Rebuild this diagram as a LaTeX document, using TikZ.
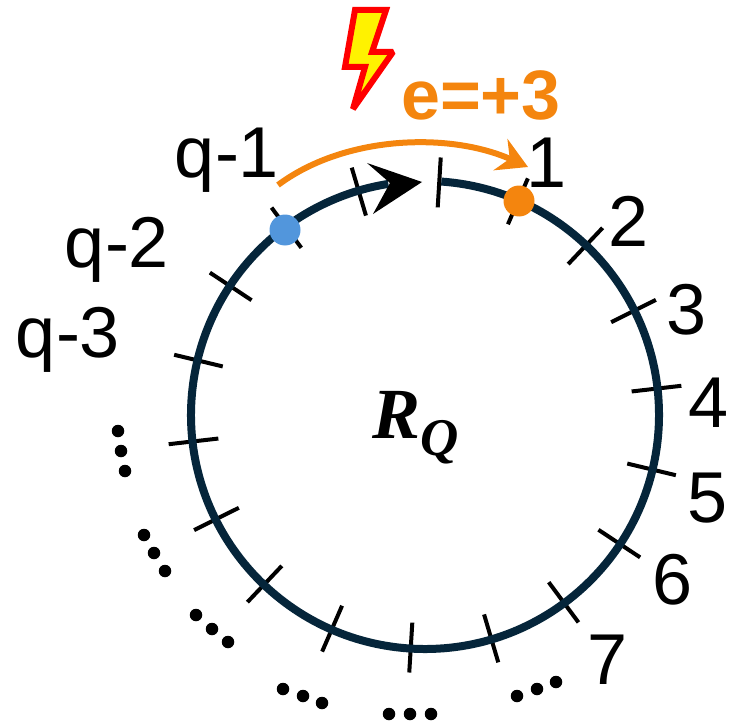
\documentclass[tikz,border=0pt]{standalone}
\usepackage{fontspec}
\setmainfont{Liberation Sans}
\newfontfamily\serifbold{Liberation Serif}
\usetikzlibrary{arrows.meta}
\definecolor{ringblue}{HTML}{05253A}
\definecolor{errorange}{HTML}{F4850E}
\definecolor{dotblue}{HTML}{5296DC}

\begin{document}
\begin{tikzpicture}[
  x=1pt, y=1pt,
  lab/.style={font=\fontsize{72}{72}\selectfont, inner sep=0pt, text=black},
  errlab/.style={font=\fontsize{70}{70}\selectfont\bfseries, inner sep=0pt, text=errorange},
  ring/.style={draw=ringblue, line width=8pt},
  tickmark/.style={draw=black, line width=4pt},
  dot/.style={circle, fill=black, inner sep=0pt, minimum size=12.5pt},
  qubit/.style={circle, inner sep=0pt, minimum size=31pt},
  arr/.style={-{Stealth[length=30pt, width=34pt, inset=10pt]}, draw=errorange, line width=6pt}]
  \useasboundingbox (0,-722) rectangle (730,0);
  \coordinate (centre) at (425,-415);
  % ticks every 20 degrees, then the ring with its gap
  \foreach \ang in {86.5,66.5,...,-253.5}
    \draw[tickmark] ([shift={(\ang:208)}]centre) -- ([shift={(\ang:258)}]centre);
  \draw[ring] ([shift={(86:234)}]centre) arc[start angle=86, end angle=-261, radius=234];
  \fill[black] (367,-163) -- (422,-182) -- (373,-214) -- (390,-183) -- cycle;
  \node[qubit, fill=dotblue]   (qblue)   at (285,-230) {};
  \node[qubit, fill=errorange] (qorange) at (519,-201) {};
  % labels
  \node[lab] (qm1) at (227,-160) {q-1};
  \node[lab] (qm2) at (117,-250) {q-2};
  \node[lab] (qm3) at (68,-340)  {q-3};
  \node[lab] (n1)  at (547,-163) {1};
  \node[lab] (n2)  at (629,-221) {2};
  \node[lab] (n3)  at (687,-310) {3};
  \node[lab] (n4)  at (709,-403) {4};
  \node[lab] (n5)  at (708,-498) {5};
  \node[lab] (n6)  at (673,-580) {6};
  \node[lab] (n7)  at (608,-660) {7};
  \node[errlab] (err) at (481,-95) {e=+3};
  \node[inner sep=0pt, font=\serifbold\fontsize{72}{72}\selectfont\bfseries\itshape] (rq) at (416,-428)
    {R\raisebox{-17pt}{\fontsize{53}{53}\selectfont Q}};
  % error arrow and bolt
  \coordinate (arrfrom) at (278,-185);
  \coordinate (arrto)   at (528,-167);
  \draw[arr] (arrfrom) .. controls (345,-135) and (450,-132) .. (arrto);
  \draw[draw=red, fill=yellow, line width=6pt, miter limit=2]
    (355,-10) -- (386,-10) -- (372,-52) -- (393,-52) -- (353,-109) -- (365,-67) -- (345,-67) -- cycle;
  % dots outside the ring
  \foreach \px/\py in {118/431,121/451,125/471,144/535,154/553,165/571,196/615,212/629,228/642,
                       283/689,303/696,322/703,389/714,410/714,431/714,517/696,537/689,556/682}
    \node[dot] at (\px,-\py) {};
\end{tikzpicture}
\end{document}
